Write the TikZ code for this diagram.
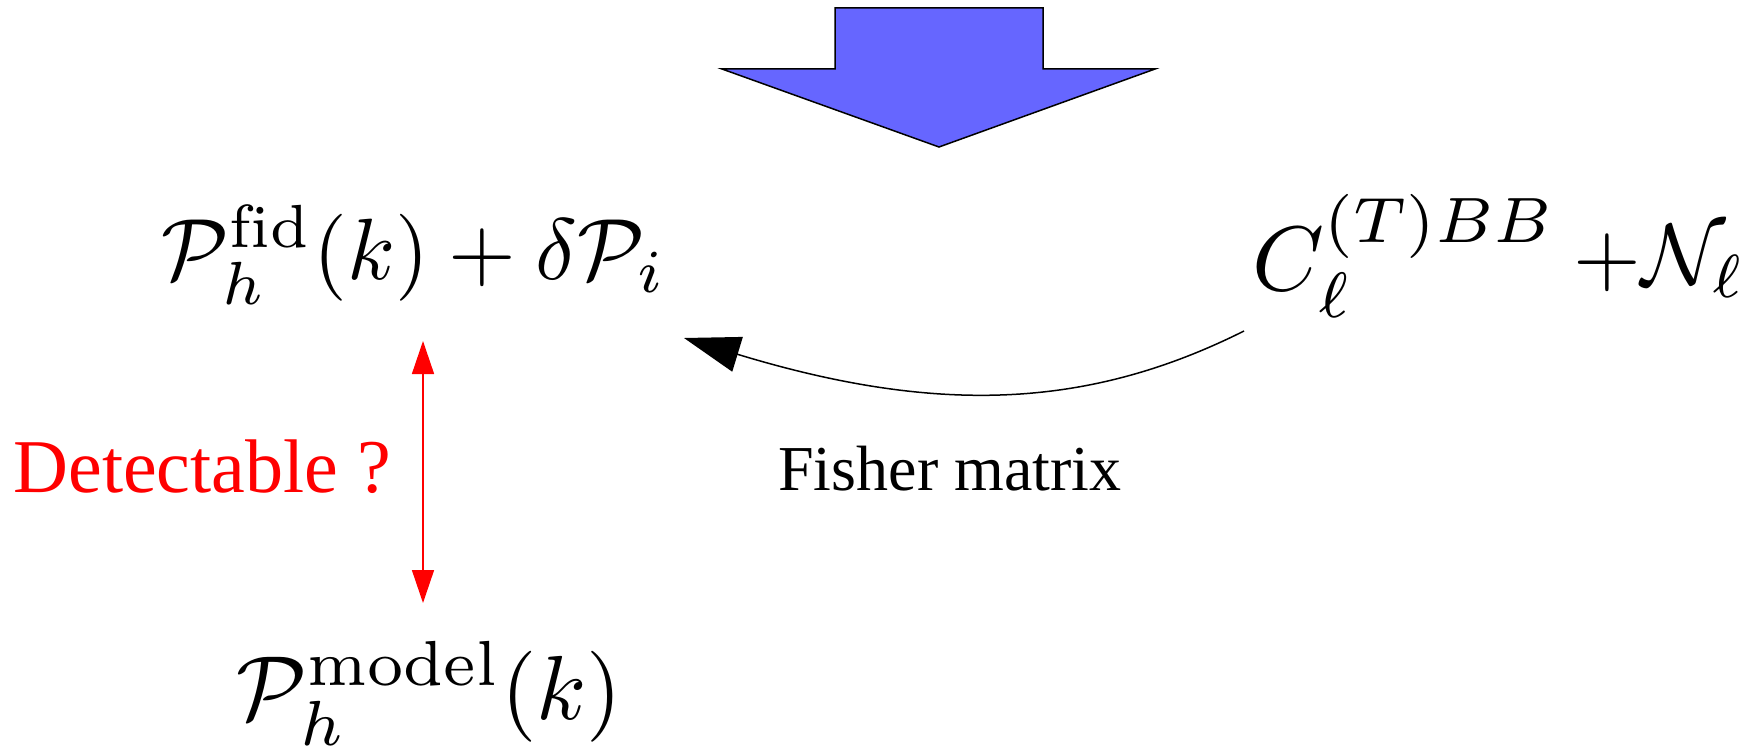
\documentclass[tikz,border=0pt]{standalone}
\usepackage{fontspec}
\usetikzlibrary{arrows.meta}
\newfontfamily\timesfont{Liberation Serif}
\definecolor{arrowblue}{HTML}{6666FF}
\tikzset{
  mathtext/.style={anchor=base west, inner sep=0pt, font=\fontsize{10pt}{12pt}\selectfont},
  plaintext/.style={anchor=base west, inner sep=0pt},
  redarrow/.style={draw=red, line width=0.75pt, {Triangle[length=16.5pt,width=11pt]}-{Triangle[length=16.5pt,width=11pt]}},
  fisherarrow/.style={draw=black, line width=0.75pt, -{Triangle[length=28pt,width=18pt]}},
  bigarrow/.style={fill=arrowblue, draw=black, line width=0.75pt, line join=miter}
}
\begin{document}
\begin{tikzpicture}[x=0.5pt,y=-0.5pt]
\useasboundingbox (0,0) rectangle (1751,749);
% big blue arrow
\draw[bigarrow] (835,8) -- (1043,8) -- (1043,69) -- (1155,69) -- (939,147) -- (722,69) -- (835,69) -- cycle;
% formulas
\node[mathtext, scale=4.35] (fid) at (160,279) {$\mathcal{P}_h^{\mathrm{fid}}(k) + \delta\mathcal{P}_i$};
\node[mathtext, scale=4.55] (model) at (235,719) {$\mathcal{P}_h^{\mathrm{model}}(k)$};
\node[mathtext, scale=4.58] (cl) at (1251,290) {$C_\ell^{(T)BB}$};
\node[mathtext, scale=4.35] (noise) at (1572,284) {$+\mathcal{N}_\ell$};
% labels
\node[plaintext, text=red, font=\timesfont\fontsize{38pt}{42pt}\selectfont] (det) at (13,492) {Detectable ?};
\node[plaintext, text=black, font=\timesfont\fontsize{32pt}{36pt}\selectfont] (fisher) at (778,490) {Fisher matrix};
% connectors
\coordinate (ra) at (423,341);
\coordinate (rb) at (423,603);
\draw[redarrow] (ra) -- (rb);
\coordinate (cs) at (1244,331);
\coordinate (ce) at (684,338);
\draw[fisherarrow] (cs) .. controls (1090,408) and (940,416) .. (ce);
\end{tikzpicture}
\end{document}
